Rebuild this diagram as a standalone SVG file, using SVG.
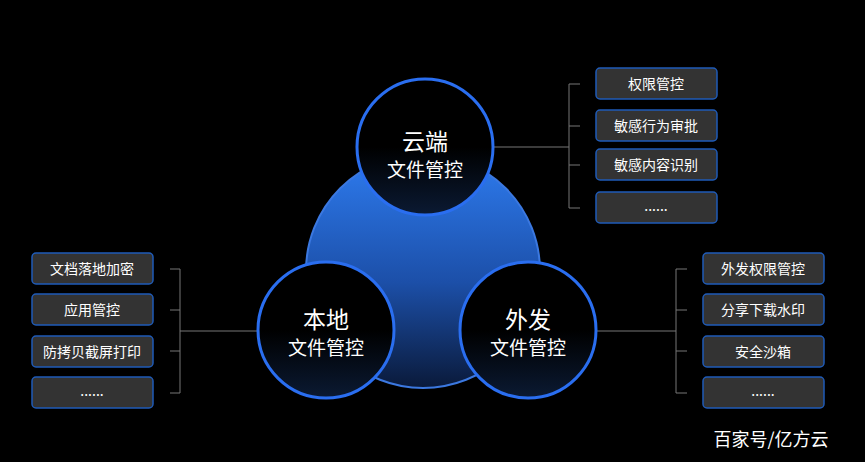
<svg xmlns="http://www.w3.org/2000/svg" width="865" height="462" viewBox="0 0 865 462">
<defs>
<linearGradient id="blob" x1="0" y1="0" x2="0" y2="1"><stop offset="0" stop-color="#2e7cf0"/><stop offset="0.55" stop-color="#1c4fa8"/><stop offset="1" stop-color="#0a1a3a"/></linearGradient>
<linearGradient id="circ" x1="0" y1="0" x2="0" y2="1"><stop offset="0" stop-color="#000"/><stop offset="0.5" stop-color="#000"/><stop offset="1" stop-color="#0b1a33"/></linearGradient>
<style>
.c{fill:url(#circ);stroke:#2a6ef0;stroke-width:3}
.b{fill:#333;stroke:#1f5bb8;stroke-width:1.5}
.t{font-family:"Noto Sans CJK SC","Noto Sans",sans-serif;fill:#fff;text-anchor:middle}
.bt{font-size:14px}
.l{stroke:#777;stroke-width:1;fill:none}
</style>
</defs>
<rect width="865" height="462" fill="#000"/>
<circle cx="423" cy="271" r="117" fill="url(#blob)" stroke="#3b78e0" stroke-width="2"/>
<g id="connectors">
<path class="l" d="M493 147H569M569 84V208M569 84H580M569 126H580M569 165H580M569 208H580"/>
<path class="l" d="M596 331H676M676 269V393M676 269H687M676 310H687M676 351H687M676 393H687"/>
<path class="l" d="M180 331H258M180 269V393M170 269H180M170 310H180M170 351H180M170 393H180"/>
</g>
<g id="cloud"><circle class="c" cx="425" cy="147" r="68"/><text class="t" x="425" y="150" font-size="23">云端</text><text class="t" x="425" y="177" font-size="19">文件管控</text></g>
<g id="local"><circle class="c" cx="326" cy="330" r="68"/><text class="t" x="326" y="328" font-size="23">本地</text><text class="t" x="326" y="355" font-size="19">文件管控</text></g>
<g id="outgoing"><circle class="c" cx="528" cy="330" r="68"/><text class="t" x="528" y="328" font-size="23">外发</text><text class="t" x="528" y="355" font-size="19">文件管控</text></g>
<g id="r1"><rect class="b" x="596" y="68" width="121" height="31" rx="4"/><text class="t bt" x="656" y="89">权限管控</text></g>
<g id="r2"><rect class="b" x="596" y="110" width="121" height="31" rx="4"/><text class="t bt" x="656" y="131">敏感行为审批</text></g>
<g id="r3"><rect class="b" x="596" y="149" width="121" height="31" rx="4"/><text class="t bt" x="656" y="170">敏感内容识别</text></g>
<g id="r4"><rect class="b" x="596" y="192" width="121" height="31" rx="4"/><text class="t bt" x="656" y="211">......</text></g>
<g id="o1"><rect class="b" x="703" y="253" width="121" height="31" rx="4"/><text class="t bt" x="763" y="274">外发权限管控</text></g>
<g id="o2"><rect class="b" x="703" y="294" width="121" height="31" rx="4"/><text class="t bt" x="763" y="315">分享下载水印</text></g>
<g id="o3"><rect class="b" x="703" y="336" width="121" height="31" rx="4"/><text class="t bt" x="763" y="357">安全沙箱</text></g>
<g id="o4"><rect class="b" x="703" y="377" width="121" height="31" rx="4"/><text class="t bt" x="763" y="396">......</text></g>
<g id="l1"><rect class="b" x="32" y="253" width="121" height="31" rx="4"/><text class="t bt" x="92" y="274">文档落地加密</text></g>
<g id="l2"><rect class="b" x="32" y="294" width="121" height="31" rx="4"/><text class="t bt" x="92" y="315">应用管控</text></g>
<g id="l3"><rect class="b" x="32" y="336" width="121" height="31" rx="4"/><text class="t bt" x="92" y="357">防拷贝截屏打印</text></g>
<g id="l4"><rect class="b" x="32" y="377" width="121" height="31" rx="4"/><text class="t bt" x="92" y="396">......</text></g>
<text class="t" x="771" y="446" font-size="18">百家号/亿方云</text>
</svg>
